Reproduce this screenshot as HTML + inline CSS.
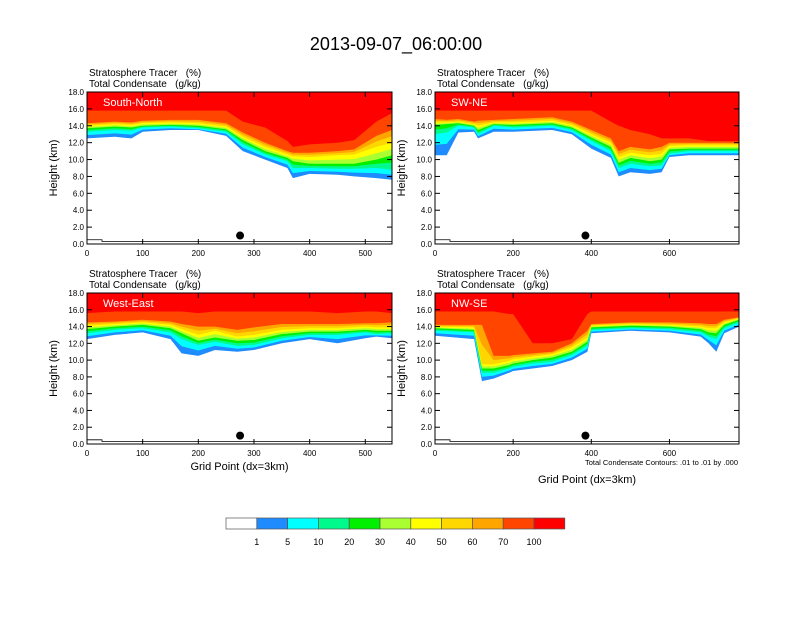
<!DOCTYPE html>
<html><head><meta charset="utf-8"><style>
body{margin:0;background:#fff}
svg text{font-family:"Liberation Sans",sans-serif;fill:#000;white-space:pre}
</style></head><body>
<svg id="c" width="792" height="612" viewBox="0 0 792 612">
<text x="396" y="50" font-size="18" text-anchor="middle">2013-09-07_06:00:00</text>
</svg>
<script>
const levelLabels=["1","5","10","20","30","40","50","60","70","100"];
const levelColors=["#ffffff","#1e8cff","#00ffff","#00fa8c","#00f000","#aaff32","#ffff00","#ffd700","#ffa500","#ff4500","#ff0000"];
const yTicks=[0,2,4,6,8,10,12,14,16,18];

const snX=[0,50,80,100,150,200,250,280,320,360,370,400,450,480,520,548];
const snL1=[12.5,12.7,12.5,13.3,13.5,13.5,12.8,11.0,10.0,9.0,7.8,8.3,8.2,8.0,7.8,7.6];
const snL10=[13.3,13.5,13.4,13.8,13.9,13.7,13.3,11.8,10.6,9.8,9.0,9.0,8.9,8.9,9.0,8.8];
const snL30=[13.7,13.9,13.8,14.0,14.1,14.0,13.6,12.3,11.0,10.2,9.8,9.5,9.5,9.5,10.0,10.5];
const snL50=[14.0,14.2,14.1,14.3,14.4,14.3,13.9,12.7,11.5,10.6,10.4,10.3,10.5,10.6,11.5,12.0];
const snL70=[14.3,14.5,14.4,14.6,14.7,14.7,14.3,13.2,12.0,11.0,10.8,10.8,11.0,11.2,12.8,13.5];
const snL100=[15.8,15.8,15.8,15.8,15.8,15.8,15.8,14.5,13.8,12.2,11.5,11.8,12.0,12.3,14.5,15.5];

const swX=[0,30,60,100,110,150,200,300,350,400,450,470,500,550,580,600,650,700,778];
const swL1=[10.5,10.5,13.2,13.3,12.5,13.3,13.3,13.5,13.0,11.3,10.2,8.0,8.5,8.3,8.5,10.3,10.5,10.5,10.5];
const swL10=[13.0,13.2,14.0,13.8,13.0,14.0,13.8,14.0,13.5,12.2,11.0,9.0,9.5,9.2,9.3,10.7,11.0,11.0,11.0];
const swL30=[14.1,14.2,14.3,14.0,13.5,14.2,14.1,14.3,13.8,12.6,11.5,9.6,10.2,9.8,10.0,11.2,11.3,11.3,11.3];
const swL50=[14.4,14.4,14.5,14.2,14.0,14.4,14.4,14.6,14.1,13.0,12.0,10.3,10.8,10.5,10.7,11.6,11.7,11.7,11.7];
const swL70=[14.8,14.7,14.8,14.5,14.6,14.7,14.8,15.0,14.5,13.5,12.5,11.0,11.5,11.2,11.5,12.0,12.0,12.0,12.0];
const swL100=[15.8,15.8,15.8,15.8,15.8,15.8,15.8,15.8,15.8,15.8,14.5,14.0,13.5,13.0,12.5,12.5,12.5,12.2,12.2];

const weX=[0,50,100,150,170,200,230,270,300,350,400,450,500,520,548];
const weL1=[12.5,13.0,13.3,12.5,10.8,10.5,11.2,11.0,11.2,12.0,12.5,12.0,12.6,12.8,12.6];
const weL10=[13.2,13.6,13.8,13.3,12.5,11.8,12.2,11.7,11.8,12.6,13.0,13.0,13.3,13.1,13.2];
const weL30=[13.7,14.0,14.2,13.8,13.2,12.3,12.7,12.3,12.4,13.1,13.4,13.4,13.6,13.5,13.5];
const weL50=[14.1,14.3,14.5,14.2,13.7,13.0,13.5,12.8,13.0,13.6,13.8,13.8,14.0,13.9,13.9];
const weL70=[14.5,14.6,14.8,14.6,14.3,14.0,14.0,13.6,13.9,14.3,14.3,14.3,14.4,14.4,14.5];
const weL100=[15.6,15.8,15.8,15.8,15.8,15.6,15.8,15.8,15.8,15.8,15.8,15.6,15.8,15.8,15.6];

const nwX=[0,100,120,150,190,200,250,300,350,390,400,500,600,680,700,720,740,778];
const nwL1=[12.9,12.5,7.5,7.8,8.5,8.7,9.0,9.3,10.0,11.0,13.2,13.5,13.3,12.8,12.0,11.0,13.2,14.0];
const nwL10=[13.5,13.3,8.5,8.5,9.0,9.2,9.6,9.8,10.6,11.7,13.6,13.8,13.7,13.3,12.8,12.5,13.8,14.5];
const nwL30=[13.8,13.6,9.0,9.0,9.4,9.6,10.0,10.3,11.0,12.2,13.9,14.1,14.0,13.7,13.3,13.2,14.2,14.8];
const nwL50=[14.0,13.9,9.5,9.5,9.9,10.1,10.4,10.7,11.5,12.7,14.1,14.3,14.2,14.0,13.8,13.8,14.5,15.0];
const nwL70=[14.2,14.2,14.2,10.5,10.5,10.6,10.8,11.0,12.0,13.5,14.3,14.5,14.5,14.4,14.3,14.3,14.8,15.1];
const nwL100=[15.8,15.8,15.8,15.8,15.5,15.5,12.0,12.0,12.5,15.5,15.8,15.8,15.8,15.8,15.8,15.8,15.8,15.8];

const NS="http://www.w3.org/2000/svg";
const svg=document.getElementById('c');
function mk(tag,attrs,parent){const e=document.createElementNS(NS,tag);for(const k in attrs)e.setAttribute(k,attrs[k]);(parent||svg).appendChild(e);return e;}
function mid(a,b){return a.map((v,i)=>(v+b[i])/2);}

function panel(p){
  const g=mk('g',{});
  
  
  const sx=v=>p.x+v/p.xmax*p.w;
  const sy=v=>p.y+p.h-v/18*p.h;
  const L=p.levels;
  const bounds=[L[0],mid(L[0],L[1]),L[1],mid(L[1],L[2]),L[2],mid(L[2],L[3]),L[3],mid(L[3],L[4]),L[4],L[5]];
  bounds.forEach((b,k)=>{
    let pts=p.xs.map((xv,i)=>sx(xv).toFixed(1)+','+sy(b[i]).toFixed(1));
    pts.push(sx(p.xmax)+','+p.y);pts.push(sx(0)+','+p.y);
    const poly=mk('polygon',{points:pts.join(' '),fill:levelColors[k+1]},g);
    
    
  });
  const cl=mk('polyline',{points:`${p.x},${sy(0.5)} ${p.x+15},${sy(0.5)} ${p.x+15},${sy(0.3)} ${p.x+p.w},${sy(0.3)}`,fill:'none',stroke:'#000','stroke-width':0.8},g);
  
  
  const dot=mk('circle',{cx:sx(p.dot),cy:sy(1.0),r:4,fill:'#000'},g);
  
  
  const fr=mk('rect',{x:p.x,y:p.y,width:p.w,height:p.h,fill:'none',stroke:'#000','stroke-width':1},g);
  
  
  yTicks.forEach(t=>{
    mk('line',{x1:p.x,x2:p.x+5,y1:sy(t),y2:sy(t),stroke:'#000'},g);
    mk('line',{x1:p.x+p.w,x2:p.x+p.w-5,y1:sy(t),y2:sy(t),stroke:'#000'},g);
    const tl=mk('text',{x:p.x-3,y:sy(t)+3,'font-size':8,'text-anchor':'end'},g);
    tl.textContent=t.toFixed(1);
    
    
  });
  p.xticks.forEach(t=>{
    mk('line',{x1:sx(t),x2:sx(t),y1:p.y+p.h,y2:p.y+p.h-5,stroke:'#000'},g);
    mk('line',{x1:sx(t),x2:sx(t),y1:p.y,y2:p.y+5,stroke:'#000'},g);
    const tl=mk('text',{x:sx(t),y:p.y+p.h+12,'font-size':8,'text-anchor':'middle'},g);
    tl.textContent=t;
    
    
  });
  const lab=mk('text',{x:p.x+16,y:p.y+14,'font-size':11,fill:'#fff'},g);
  lab.style.fill='#fff';lab.textContent=p.label;
  
  
  const h1=mk('text',{x:p.x+2,y:p.y-16,'font-size':10},g);h1.textContent='Stratosphere Tracer   (%)';
  
  
  const h2=mk('text',{x:p.x+2,y:p.y-5,'font-size':10},g);h2.textContent='Total Condensate   (g/kg)';
  
  
  const yl=mk('text',{x:0,y:0,'font-size':11,'text-anchor':'middle',transform:`translate(${p.x-30},${p.y+p.h/2}) rotate(-90)`},g);
  yl.textContent='Height (km)';
  
  
  if(p.xtitle){const xt=mk('text',{x:p.x+p.w/2,y:p.y+p.h+p.xtitle,'font-size':11,'text-anchor':'middle'},g);xt.textContent='Grid Point (dx=3km)';
    
    }
}
panel({name:'panel-south-north',label:'South-North',x:87,y:92,w:305,h:152,xmax:548,xs:snX,levels:[snL1,snL10,snL30,snL50,snL70,snL100],xticks:[0,100,200,300,400,500],dot:275});
panel({name:'panel-sw-ne',label:'SW-NE',x:435,y:92,w:304,h:152,xmax:778,xs:swX,levels:[swL1,swL10,swL30,swL50,swL70,swL100],xticks:[0,200,400,600],dot:385});
panel({name:'panel-west-east',label:'West-East',x:87,y:293,w:305,h:151,xmax:548,xs:weX,levels:[weL1,weL10,weL30,weL50,weL70,weL100],xticks:[0,100,200,300,400,500],dot:275,xtitle:26});
panel({name:'panel-nw-se',label:'NW-SE',x:435,y:293,w:304,h:151,xmax:778,xs:nwX,levels:[nwL1,nwL10,nwL30,nwL50,nwL70,nwL100],xticks:[0,200,400,600],dot:385,xtitle:39});
const note=mk('text',{x:738,y:465,'font-size':7.5,'text-anchor':'end'});
note.textContent='Total Condensate Contours: .01 to .01 by .000';


const cb=mk('g',{});


const bw=30.8;
levelColors.forEach((c,i)=>{
  const r=mk('rect',{x:226+i*bw,y:518,width:bw,height:11,fill:c,stroke:'#555','stroke-width':0.7},cb);
  
  
});
levelLabels.forEach((l,i)=>{
  const t=mk('text',{x:226+(i+1)*bw,y:545,'font-size':9,'text-anchor':'middle'},cb);
  t.textContent=l;
  
  
});
</script>
</body></html>
